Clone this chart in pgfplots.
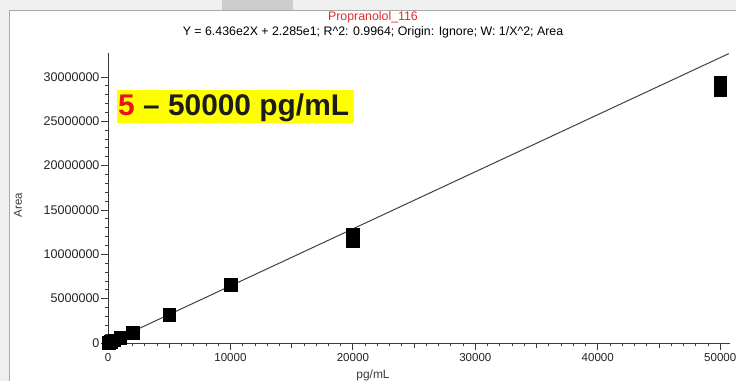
\documentclass[border=0pt]{standalone}
\usepackage{pgfplots}
\pgfplotsset{compat=1.18}
\usepackage{fontspec}
\setmainfont{Liberation Sans}

\definecolor{chromegrey}{HTML}{F0F0F0}
\definecolor{tabgrey}{HTML}{CDCDCD}
\definecolor{framegrey}{HTML}{A8A8A8}
\definecolor{titlered}{HTML}{E02A2A}
\definecolor{axisgrey}{HTML}{3A3A3A}
\definecolor{ticktext}{HTML}{222222}
\definecolor{fitgrey}{HTML}{404040}
\definecolor{bigred}{HTML}{E8141B}
\definecolor{bigtext}{HTML}{1C1C1C}
\definecolor{hilite}{HTML}{FFFF00}

\begin{document}
\begin{tikzpicture}[x=1bp,y=1bp]
\useasboundingbox (0,0) rectangle (736,381);
% window chrome around the plot panel
\fill[chromegrey] (0,371) rectangle (736,381);
\fill[tabgrey] (222,371) rectangle (293,381);
\fill[chromegrey] (0,0) rectangle (9,371);
\draw[framegrey, line width=1bp] (9.5,0) -- (9.5,370.5) -- (736,370.5);

\begin{axis}[
  at={(108bp,38bp)}, anchor=south west,
  scale only axis, width=622bp, height=290bp,
  xmin=0, xmax=50800, ymin=0, ymax=32700000,
  axis x line=bottom, axis y line=left,
  axis line style={-, color=axisgrey, line width=0.8bp},
  every tick/.style={color=axisgrey, line width=0.8bp},
  tick align=outside,
  xtick={0,10000,...,50000},
  ytick={0,5000000,...,30000000},
  minor x tick num=9, minor y tick num=4,
  major tick length=7bp, minor tick length=3bp,
  extra x ticks={5000,15000,25000,35000,45000},
  extra x tick labels={},
  extra x tick style={major tick length=5bp},
  scaled ticks=false,
  /pgf/number format/.cd, fixed, 1000 sep={}, assume math mode=true,
  /pgfplots/.cd,
  tick label style={text=ticktext},
  xticklabel style={font=\fontsize{11.6}{13}\selectfont},
  yticklabel style={font=\fontsize{12.6}{14}\selectfont, xshift=2bp},
  clip=false,
]
% weighted linear fit: Y = 643.6 X + 22.85
\addplot[color=fitgrey, line width=1bp] coordinates {(0,22.85) (50700,32630543)};
% calibration standards
\addplot[only marks, mark=square*, mark size=6.3bp, black] coordinates {
  (5,3300) (10,6400) (20,12500) (50,33000) (100,66000) (200,128000)
  (500,318000) (1000,600000) (2000,1150000) (5000,3200000)
  (10000,6550000) (20000,12200000) (20000,11550000)
  (50000,29350000) (50000,28550000)
};
\end{axis}

% titles
\node[font=\fontsize{12.4}{14}\selectfont, text=titlered] at (373,364) {Propranolol\_116};
\node[font=\fontsize{12.4}{14}\selectfont] at (373,349) {Y = 6.436e2X + 2.285e1; R\textasciicircum2: 0.9964; Origin: Ignore; W: 1/X\textasciicircum2; Area};
% axis titles
\node[rotate=90, font=\fontsize{11.5}{13}\selectfont, text=axisgrey] at (18,176) {Area};
\node[font=\fontsize{12}{14}\selectfont, text=axisgrey] at (373,6) {pg/mL};

% range callout
\fill[hilite] (117,258) rectangle (354,291);
\node[anchor=base west, inner sep=0, font=\fontsize{30}{32}\selectfont\bfseries, text=bigtext] at (118,266) {\textcolor{bigred}{5} – 50000 pg/mL};
\end{tikzpicture}
\end{document}
